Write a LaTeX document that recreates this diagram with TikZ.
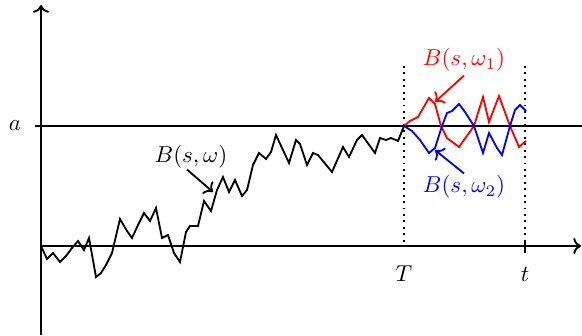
\documentclass[tikz,border=0pt]{standalone}
\usepackage{amsmath}
\usetikzlibrary{arrows.meta, positioning, calc}
\definecolor{wred} {RGB}{255,  0,  0}
\definecolor{wblue}{RGB}{  0,  0,255}
\tikzset{
  % Axis with arrow
  Ax/.style={->,thick},
  % Sample path
  SP/.style={thick,line join=miter,miter limit=4},
  % Dotted time mark
  Tm/.style={dotted,thick},
  % Label pointer
  Ptr/.style={->,thick},
  % Label text
  Lb/.style={inner sep=2pt,font=\normalsize},
}

\begin{document}
\begin{tikzpicture}[x=0.435pt,y=-0.435pt]
      \useasboundingbox (0,0) rectangle (582,335);
      % axes
      \coordinate (o)  at (41,246);
      \coordinate (yb) at (41,335);
      \coordinate (yt) at (41,5);
      \coordinate (xe) at (581,246);
      \draw[Ax] (yb) -- (yt);
      \draw[Ax] (o) -- (xe);
      % level a
      \coordinate (a0) at (35,126);
      \coordinate (a1) at (582,126);
      \draw[thick] (a0) -- (a1);
      \node[Lb] at (15,126) (la) {$a$};
      % times T and t
      \coordinate (Tt) at (404,66);
      \coordinate (Tb) at (404,246);
      \coordinate (tt) at (525,66);
      \coordinate (tb) at (525,246);
      \draw[Tm] (Tt) -- (Tb);
      \draw[Tm] (tt) -- (tb);
      \coordinate (tk0) at (525,240);
      \coordinate (tk1) at (525,253);
      \draw[thick] (tk0) -- (tk1);
      \node[Lb,anchor=base] at (404,281) (lT) {$T$};
      \node[Lb,anchor=base] at (525,281) (lt) {$t$};
      % path up to T
      \draw[SP] plot coordinates {
        (41,246) (47,259) (53,253) (60,262) (66,256) (72,248) (78,241)
        (84,250) (89,238) (96,277) (101,273) (106,265) (112,253) (120,219)
        (127,231) (132,238) (138,225) (144,213) (150,221) (156,208) (162,238)
        (168,235) (174,253) (180,262) (186,232) (190,226) (198,226) (204,201)
        (211,211) (217,190) (223,177) (229,192) (235,180) (242,196) (247,190)
        (253,165) (259,153) (266,159) (271,152) (276,135) (289,163) (296,140)
        (300,144) (307,165) (313,153) (318,155) (332,172) (343,147) (349,157)
        (357,140) (362,135) (375,153) (380,138) (386,140) (391,138) (398,141)
        (404,126)};
      % two continuations after T
      \draw[SP,wred] plot coordinates {
        (404,126) (410,121) (418,117) (429,98) (435,104) (441,126) (447,138)
        (459,147) (474,126) (483,97) (489,122) (499,96) (510,126) (519,147)
        (526,141)};
      \draw[SP,wblue] plot coordinates {
        (404,126) (412,131) (420,140) (429,153) (435,148) (442,126) (447,113)
        (452,111) (459,104) (465,112) (474,126) (483,153) (489,133) (497,148)
        (502,155) (510,126) (515,110) (520,105) (526,111)};
      % labels with pointers
      \node[Lb] at (191,157) (lB) {$B(s,\omega)$};
      \coordinate (pB) at (213,192);
      \draw[Ptr] ($(lB.south)+(-4,-4)$) -- (pB);
      \node[Lb,text=wred] at (464,60) (lB1) {$B(s,\omega_1)$};
      \coordinate (pB1) at (435,102);
      \draw[Ptr,wred] ($(lB1.south)+(0,-1)$) -- (pB1);
      \node[Lb,text=wblue] at (464,187) (lB2) {$B(s,\omega_2)$};
      \coordinate (pB2) at (435,150);
      \draw[Ptr,wblue] ($(lB2.north)+(0,3)$) -- (pB2);
    \end{tikzpicture}
\end{document}
